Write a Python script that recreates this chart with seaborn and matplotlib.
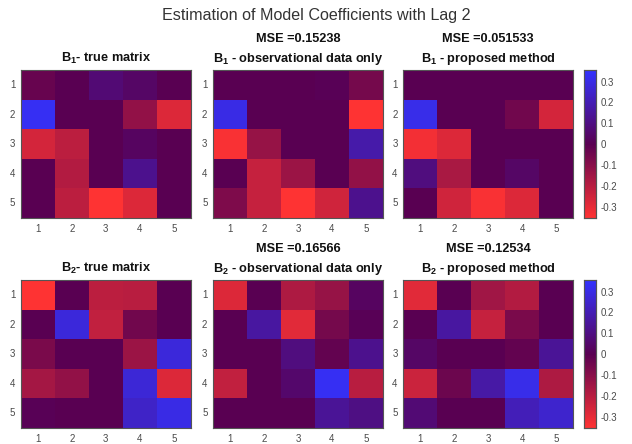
import numpy as np
import matplotlib
matplotlib.use("Agg")
import matplotlib.pyplot as plt
import seaborn as sns
from matplotlib.colors import LinearSegmentedColormap

sns.set_style("white")
plt.rcParams['font.family'] = ['Liberation Sans', 'DejaVu Sans']
plt.rcParams['axes.unicode_minus'] = False
plt.rcParams['mathtext.fontset'] = 'custom'
plt.rcParams['mathtext.rm'] = 'Liberation Sans'
plt.rcParams['mathtext.bf'] = 'Liberation Sans:bold'

# ---- data ----
tick_labels = ["1", "2", "3", "4", "5"]
cbar_ticks = [-0.3, -0.2, -0.1, 0, 0.1, 0.2, 0.3]

B1_true = [[-0.03, 0.00, 0.07, 0.04, 0.00],
           [0.33, 0.00, 0.00, -0.12, -0.28],
           [-0.26, -0.21, 0.00, 0.03, 0.00],
           [0.00, -0.19, 0.00, 0.12, 0.00],
           [0.00, -0.21, -0.35, -0.28, 0.00]]
B1_obs = [[0.00, 0.00, 0.00, 0.01, -0.06],
          [0.30, 0.00, 0.00, 0.00, -0.35],
          [-0.34, -0.13, 0.00, 0.00, 0.18],
          [0.00, -0.23, -0.14, 0.00, -0.12],
          [-0.08, -0.23, -0.35, -0.25, 0.12]]
B1_prop = [[0.00, 0.00, 0.00, 0.00, 0.00],
           [0.31, 0.00, 0.00, -0.05, -0.26],
           [-0.33, -0.28, 0.00, 0.00, 0.00],
           [0.09, -0.17, 0.00, 0.04, 0.00],
           [0.00, -0.25, -0.34, -0.28, 0.00]]
B2_true = [[-0.35, 0.00, -0.21, -0.20, 0.00],
           [0.00, 0.28, -0.22, -0.05, 0.00],
           [-0.07, 0.00, 0.00, -0.14, 0.28],
           [-0.16, -0.12, 0.00, 0.27, -0.28],
           [0.01, 0.00, 0.00, 0.24, 0.30]]
B2_obs = [[-0.28, 0.00, -0.18, -0.13, 0.03],
          [0.00, 0.16, -0.29, -0.06, 0.01],
          [0.00, 0.00, 0.09, -0.02, 0.12],
          [-0.22, 0.00, 0.05, 0.33, -0.20],
          [0.00, 0.00, 0.00, 0.14, 0.10]]
B2_prop = [[-0.29, 0.00, -0.15, -0.19, 0.00],
           [0.00, 0.16, -0.23, -0.07, 0.00],
           [0.04, 0.00, 0.00, -0.02, 0.14],
           [-0.24, -0.04, 0.17, 0.31, -0.18],
           [0.07, 0.00, 0.00, 0.21, 0.25]]

titles = [
    [r"B$_{\mathbf{1}}$- true matrix",
     "MSE =0.15238\n" + r"B$_{\mathbf{1}}$ - observational data only",
     "MSE =0.051533\n" + r"B$_{\mathbf{1}}$ - proposed method"],
    [r"B$_{\mathbf{2}}$- true matrix",
     "MSE =0.16566\n" + r"B$_{\mathbf{2}}$ - observational data only",
     "MSE =0.12534\n" + r"B$_{\mathbf{2}}$ - proposed method"],
]
mats = [[B1_true, B1_obs, B1_prop], [B2_true, B2_obs, B2_prop]]

VMAX = 0.355
cmap = LinearSegmentedColormap.from_list(
    "rpb", [(0.0, (1.0, 0.2, 0.2)), (0.5, (0.35, 0.0, 0.32)), (1.0, (0.2, 0.2, 1.0))], N=256)

fig = plt.figure(figsize=(6.32, 4.44), dpi=100)
xs = [0.033, 0.337, 0.638]
w = 0.269
ys = [0.509, 0.036]
h = 0.333
tc = '#4a4a4a'

for r in range(2):
    cax = fig.add_axes([0.924, ys[r], 0.019, h])
    for c in range(3):
        ax = fig.add_axes([xs[c], ys[r], w, h])
        sns.heatmap(np.array(mats[r][c]), ax=ax, cmap=cmap, vmin=-VMAX, vmax=VMAX,
                    cbar=(c == 2), cbar_ax=cax if c == 2 else None,
                    xticklabels=tick_labels, yticklabels=tick_labels)
        for s in ax.spines.values():
            s.set_visible(True)
            s.set_color('#555555')
            s.set_linewidth(0.8)
        ax.tick_params(axis='both', labelsize=7, colors=tc, length=2, width=0.5,
                       direction='in', pad=4)
        ax.tick_params(axis='y', rotation=0)
        ax.tick_params(axis='x', rotation=0)
        ax.set_title(titles[r][c], fontsize=9.2, fontweight='bold', color='#111111',
                     pad=6, linespacing=1.5)
    cax.tick_params(labelsize=7, colors=tc, length=2, width=0.5, direction='in')
    cax.set_yticks(cbar_ticks)
    cax.set_yticklabels(["%g" % t for t in cbar_ticks])
    for s in cax.spines.values():
        s.set_visible(True)
        s.set_color('#555555')
        s.set_linewidth(0.8)

fig.text(0.5, 0.966, "Estimation of Model Coefficients with Lag 2", ha='center', va='center',
         fontsize=11.6, color='#333333')

fig.savefig("out.png", dpi=100)
